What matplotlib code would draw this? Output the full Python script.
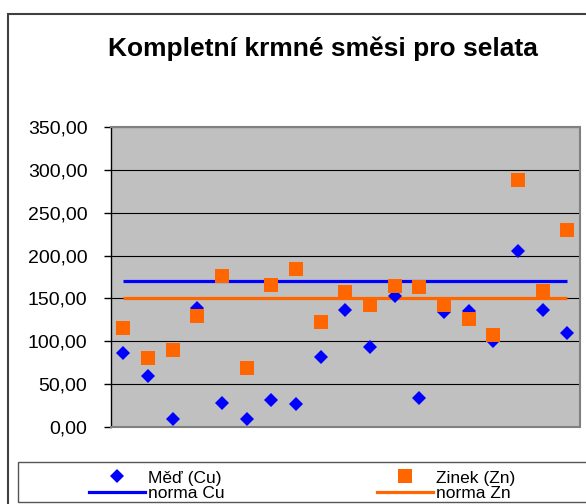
import matplotlib
matplotlib.use('Agg')
import matplotlib.pyplot as plt
import matplotlib.patches as patches
from matplotlib.lines import Line2D
from matplotlib.ticker import FuncFormatter

# Hodnoty (mg/kg)
vzorky = list(range(1, 20))
med_cu = [86, 59, 9, 139, 28, 9, 32, 27, 82, 136, 93, 153, 34, 134, 135, 100, 205, 136, 110]
zinek_zn = [115, 80, 90, 130, 176, 69, 166, 184, 122, 157, 142, 165, 163, 142, 126, 107, 288, 159, 230]
norma_cu = [170] * len(vzorky)
norma_zn = [150] * len(vzorky)
y_ticks = [0, 50, 100, 150, 200, 250, 300, 350]

W, H = 586, 504
BLUE = "#0000FF"
ORANGE = "#FF6600"

plt.rcParams['font.family'] = ['Liberation Sans', 'DejaVu Sans']


def px(x, y):
    """Pixel (od levého horního rohu) -> souřadnice figury."""
    return x / W, 1 - y / H


fig = plt.figure(figsize=(W / 100, H / 100), dpi=100)

# Rámeček celého grafu
fig.patches.append(patches.Rectangle(px(8, 640), 700 / W, 626 / H, transform=fig.transFigure,
                                     fill=False, edgecolor='#404040', linewidth=1.5))

left, top, right, bottom = 111, 127, 579.5, 427
ax = fig.add_axes([left / W, 1 - bottom / H, (right - left) / W, (bottom - top) / H])
ax.set_facecolor('#C0C0C0')

ax.plot(vzorky, norma_cu, color=BLUE, linewidth=2.3, zorder=2, solid_capstyle='butt')
ax.plot(vzorky, norma_zn, color=ORANGE, linewidth=2.3, zorder=2, solid_capstyle='butt')
ax.plot(vzorky, med_cu, linestyle='none', marker='D', markersize=7.6, color=BLUE,
        markeredgewidth=0, zorder=3)
ax.plot(vzorky, zinek_zn, linestyle='none', marker='s', markersize=10.5, color=ORANGE,
        markeredgewidth=0, zorder=4)

ax.set_xlim(0.5, len(vzorky) + 0.5)
ax.set_ylim(0, 350)
ax.set_yticks(y_ticks)
ax.yaxis.set_major_formatter(FuncFormatter(lambda v, p: f"{v:.2f}".replace('.', ',')))
ax.set_xticks([])
ax.tick_params(axis='y', length=5, width=1, pad=12, labelsize=14, color='black')
ax.yaxis.grid(True, color='black', linewidth=0.8)
ax.set_axisbelow(True)

for name in ['top', 'right', 'bottom']:
    ax.spines[name].set_color('#808080')
    ax.spines[name].set_linewidth(1.5)
ax.spines['left'].set_color('black')
ax.spines['left'].set_linewidth(1)

# Nadpis
tx, ty = px(323, 49)
fig.text(tx, ty, "Kompletní krmné směsi pro selata", ha='center', va='center',
         fontsize=19, fontweight='bold')

# Legenda
fig.patches.append(patches.Rectangle(px(18, 502), 600 / W, 40 / H, transform=fig.transFigure,
                                     fill=False, edgecolor='#555555', linewidth=1))

h_cu = [Line2D([], [], linestyle='none', marker='D', markersize=7.6, color=BLUE, markeredgewidth=0),
        Line2D([], [], color=BLUE, linewidth=2.3)]
h_zn = [Line2D([], [], linestyle='none', marker='s', markersize=10.5, color=ORANGE, markeredgewidth=0),
        Line2D([], [], color=ORANGE, linewidth=2.3)]

for handles, labels, x0 in [(h_cu, ["Měď (Cu)", "norma Cu"], 89),
                            (h_zn, ["Zinek (Zn)", "norma Zn"], 377)]:
    fig.legend(handles, labels, loc='center left', bbox_to_anchor=px(x0, 485.5),
               frameon=False, fontsize=12.5, borderpad=0, borderaxespad=0,
               handlelength=3.2, handletextpad=0.2, labelspacing=0)

fig.savefig('out.png', dpi=100)
